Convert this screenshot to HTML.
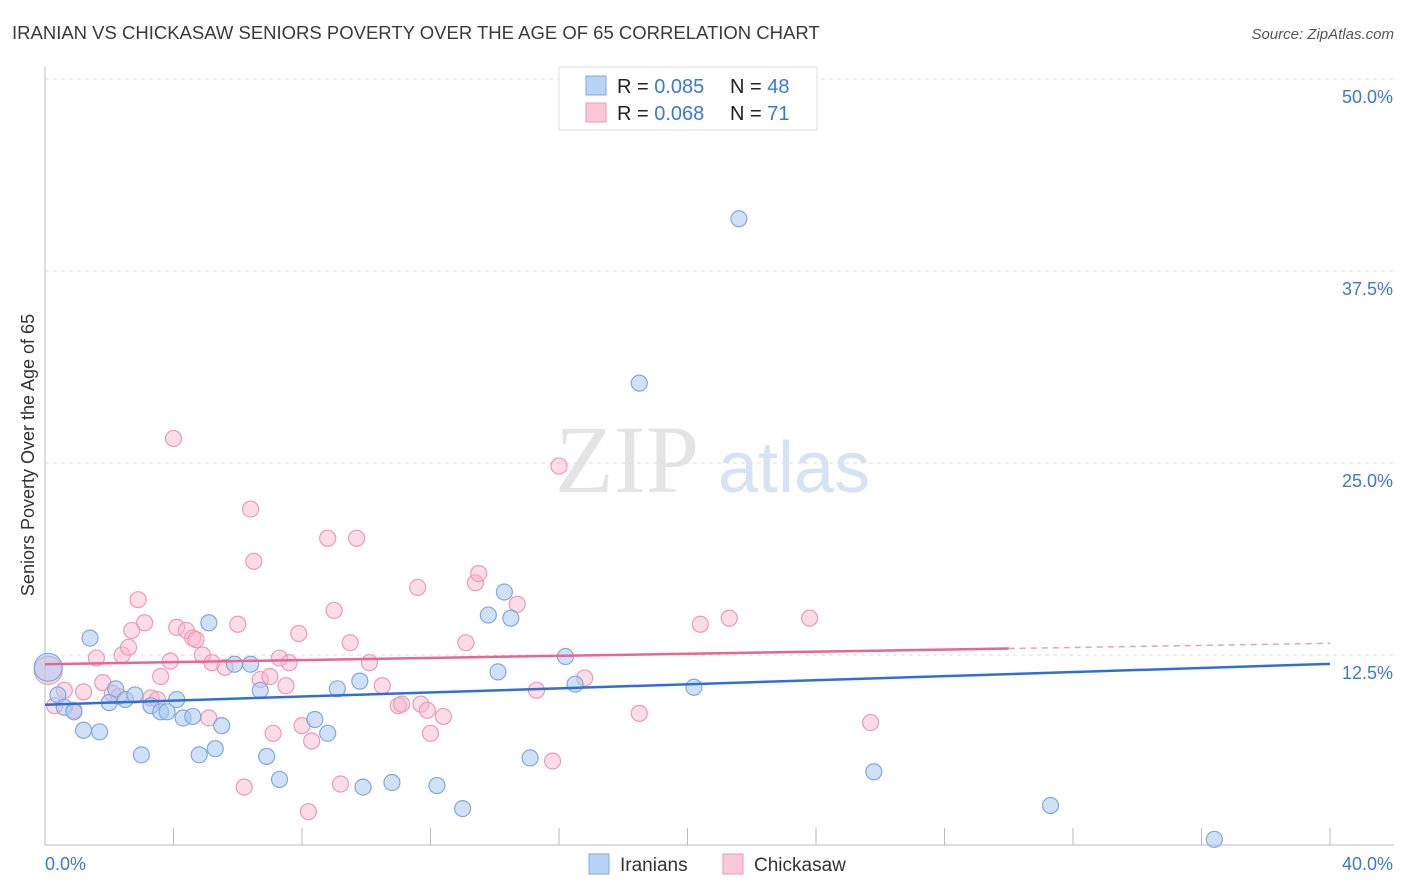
<!DOCTYPE html>
<html><head><meta charset="utf-8"><style>
body{margin:0;background:#fff;font-family:"Liberation Sans",sans-serif;}
svg{display:block}
</style></head><body>
<svg id="c" width="1406" height="892" xmlns="http://www.w3.org/2000/svg">
<text x="12" y="39" font-size="18.5" fill="#3a3a3a">IRANIAN VS CHICKASAW SENIORS POVERTY OVER THE AGE OF 65 CORRELATION CHART</text>
<text x="1394" y="39" font-size="15" fill="#555" font-style="italic" text-anchor="end">Source: ZipAtlas.com</text>
<text x="555" y="492" font-size="96" fill="#e4e4e4" font-family="Liberation Serif,serif">ZIP</text>
<text x="718" y="492" font-size="72" fill="#d5e3f5">atlas</text>
<text transform="translate(34,455) rotate(-90)" font-size="18" fill="#333" text-anchor="middle">Seniors Poverty Over the Age of 65</text>
<g id="grid"></g><g id="pts"></g><g id="lines"></g>
<g>
<rect x="559" y="67" width="258" height="63" fill="#fff" stroke="#ddd"/>
<rect x="586" y="76" width="20" height="19" fill="#b8d3f5" stroke="#7fa9e0"/>
<rect x="586" y="103" width="20" height="19" fill="#fbc8d8" stroke="#eb9ab4"/>
<text x="617" y="93" font-size="20" fill="#222">R = <tspan fill="#3a78d4">0.085</tspan><tspan x="730">N = </tspan><tspan fill="#3a78d4">48</tspan></text>
<text x="617" y="120" font-size="20" fill="#222">R = <tspan fill="#3a78d4">0.068</tspan><tspan x="730">N = </tspan><tspan fill="#3a78d4"> 71</tspan></text>
</g>
<g>
<rect x="589" y="854" width="20" height="20" fill="#b8d3f5" stroke="#7fa9e0"/>
<text x="620" y="871" font-size="19" fill="#333">Iranians</text>
<rect x="723" y="854" width="20" height="20" fill="#fbc8d8" stroke="#eb9ab4"/>
<text x="754" y="871" font-size="19" fill="#333">Chickasaw</text>
</g>
</svg>
<script>
const yTicks=[12.5,25,37.5,50];
const xTickLabels=["0.0%","40.0%"];
const blueX=[0.1,0.4,0.6,0.9,1.2,1.4,1.7,2.0,2.2,2.5,2.8,3.0,3.3,3.6,3.8,4.1,4.3,4.6,4.8,5.1,5.3,5.5,5.9,6.4,6.7,6.9,7.3,8.4,8.8,9.1,9.8,9.9,10.8,12.2,13.0,13.8,14.1,14.3,14.5,15.1,16.2,16.5,18.5,20.2,21.6,25.8,31.3,36.4];
const blueY=[11.7,9.9,9.1,8.8,7.6,13.6,7.5,9.4,10.3,9.6,9.9,6.0,9.2,8.8,8.8,9.6,8.4,8.5,6.0,14.6,6.4,7.9,11.9,11.9,10.2,5.9,4.4,8.3,7.4,10.3,10.8,3.9,4.2,4.0,2.5,15.1,11.4,16.6,14.9,5.8,12.4,10.6,30.2,10.4,40.9,4.9,2.7,0.5];
const pinkX=[0.1,0.3,0.6,0.9,1.2,1.6,1.8,2.1,2.3,2.4,2.6,2.7,2.9,3.1,3.3,3.5,3.6,3.9,4.0,4.1,4.4,4.6,4.7,4.9,5.1,5.2,5.6,6.0,6.2,6.4,6.5,6.7,7.0,7.1,7.3,7.5,7.6,7.9,8.0,8.2,8.3,8.8,9.0,9.2,9.5,9.7,10.1,10.5,11.0,11.1,11.6,11.7,11.9,12.0,12.4,13.1,13.4,13.5,14.7,15.3,15.8,16.0,16.8,18.5,20.4,21.3,23.8,25.7];
const pinkY=[11.5,9.2,10.2,8.9,10.1,12.3,10.7,10.0,9.8,12.5,13.0,14.1,16.1,14.6,9.7,9.6,11.1,12.1,26.6,14.3,14.1,13.6,13.5,12.5,8.4,12.0,11.7,14.5,3.9,22.0,18.6,10.9,11.1,7.4,12.3,10.5,12.0,13.9,7.9,2.3,6.9,20.1,15.4,4.1,13.3,20.1,12.0,10.5,9.2,9.3,16.9,9.3,8.9,7.4,8.5,13.3,17.2,17.8,15.8,10.2,5.6,24.8,11.0,8.7,14.5,14.9,14.9,8.1];
const svg=document.getElementById('c'),NS="http://www.w3.org/2000/svg";
const X0=45,X1=1330,Y0=847,PY=192/12.5;
const sx=v=>X0+(X1-X0)*v/40, sy=v=>Y0-v*PY;
function mk(t,a,p){const e=document.createElementNS(NS,t);for(const k in a)e.setAttribute(k,a[k]);p.appendChild(e);return e;}
const grid=document.getElementById('grid');
yTicks.forEach(t=>{
 const l=mk('line',{x1:X0,x2:1394,y1:sy(t),y2:sy(t),stroke:'#ddd','stroke-dasharray':'4,4'},grid);
 
 
 const tx=mk('text',{x:1393,y:sy(t)+24,'font-size':18,fill:'#3a78d4','text-anchor':'end'},grid);tx.textContent=t.toFixed(1)+'%';
 
 
});
mk('line',{x1:X0,x2:X0,y1:67,y2:845,stroke:'#bbb'},grid);
mk('line',{x1:X0,x2:1394,y1:845,y2:845,stroke:'#bbb'},grid);
for(let i=0;i<=10;i++){mk('line',{x1:sx(i*4),x2:sx(i*4),y1:828,y2:845,stroke:'#bbb'},grid);}
xTickLabels.forEach((s,i)=>{const t=mk('text',{x:i?1393:45,y:870,'font-size':18,fill:'#3a78d4','text-anchor':i?'end':'start'},grid);t.textContent=s;
 
 });
const pts=document.getElementById('pts');
function plot(xs,ys,f,s,name){xs.forEach((x,i)=>{const c=mk('circle',{cx:sx(x),cy:sy(ys[i]),r:i==0?14:8,fill:f,stroke:s,'stroke-width':1.2},pts);
 
 });}
plot(pinkX,pinkY,'rgba(248,180,202,0.45)','#eb9ab4','chickasaw-point');
plot(blueX,blueY,'rgba(170,200,240,0.55)','#7fa9e0','iranian-point');
const lines=document.getElementById('lines');
function fit(xs,ys){const n=xs.length,mx=xs.reduce((a,b)=>a+b)/n,my=ys.reduce((a,b)=>a+b)/n;let a=0,b=0;xs.forEach((x,i)=>{a+=(x-mx)*(ys[i]-my);b+=(x-mx)**2});const m=a/b;return x=>my+m*(x-mx);}
const fb=fit(blueX,blueY),fp=fit(pinkX,pinkY);
const bl=mk('line',{x1:sx(0),y1:sy(fb(0)),x2:sx(40),y2:sy(fb(40)),stroke:'#2f6fd6','stroke-width':2.5},lines);


const pl=mk('line',{x1:sx(0),y1:sy(fp(0)),x2:sx(30),y2:sy(fp(30)),stroke:'#e8668f','stroke-width':2.5},lines);


const pd=mk('line',{x1:sx(30),y1:sy(fp(30)),x2:sx(40),y2:sy(fp(40)),stroke:'#e8a0b8','stroke-width':1.5,'stroke-dasharray':'6,5'},lines);


</script>
</body></html>
